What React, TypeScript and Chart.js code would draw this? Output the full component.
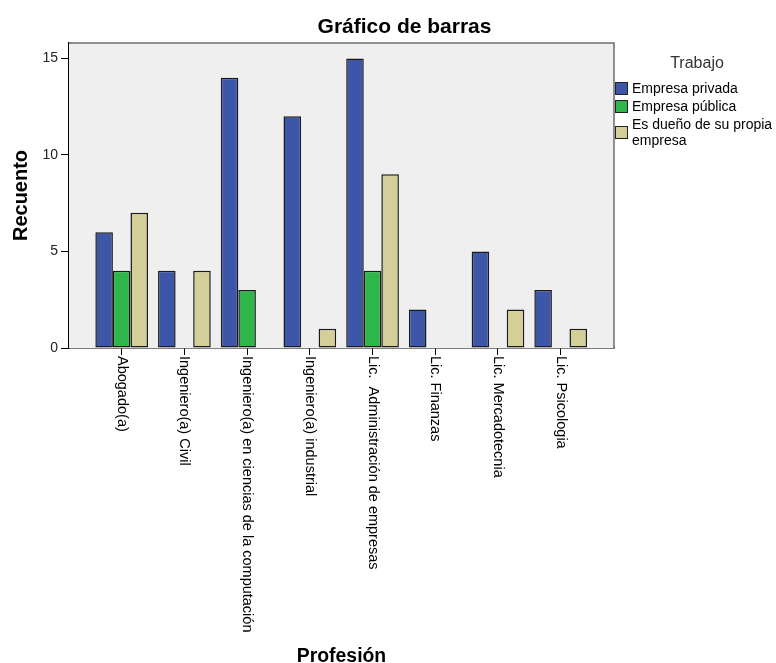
import React, { useEffect, useRef } from 'react';
import { Chart, registerables } from 'chart.js';

Chart.register(...registerables);

const categories = [
  'Abogado(a)',
  'Ingeniero(a) Civil',
  'Ingeniero(a) en ciencias de la computación',
  'Ingeniero(a) industrial',
  'Lic.  Administración de empresas',
  'Lic. Finanzas',
  'Lic. Mercadotecnia',
  'Lic. Psicologia',
];
const seriesNames = ['Empresa privada', 'Empresa pública', 'Es dueño de su propia empresa'];
const legendLines = [['Empresa privada'], ['Empresa pública'], ['Es dueño de su propia', 'empresa']];
const privada = [6, 4, 14, 12, 15, 2, 5, 3];
const publica = [4, 0, 3, 0, 4, 0, 0, 0];
const duenio = [7, 4, 0, 1, 9, 0, 2, 1];
const yTicks = [0, 5, 10, 15];
const yMax = 15.8;
const chartTitle = 'Gráfico de barras';
const xTitle = 'Profesión';
const yTitle = 'Recuento';
const legendTitle = 'Trabajo';

const colors = ['#3D56A8', '#2FB64A', '#D4CF98'];
const FONT = '"Liberation Sans", Arial, sans-serif';

const decorPlugin = {
  id: 'decor',
  beforeDatasetsDraw(chart: any) {
    const { ctx, chartArea: a } = chart;
    ctx.save();
    ctx.fillStyle = '#EFEFEF';
    ctx.fillRect(a.left, a.top, a.right - a.left, a.bottom - a.top);
    ctx.restore();
  },
  afterDraw(chart: any) {
    const { ctx, chartArea: a } = chart;
    const xs = chart.scales.x;
    ctx.save();
    // top and right frame
    ctx.strokeStyle = '#6E6E6E';
    ctx.lineWidth = 1.5;
    ctx.beginPath();
    ctx.moveTo(a.left, a.top);
    ctx.lineTo(a.right, a.top);
    ctx.lineTo(a.right, a.bottom);
    ctx.stroke();

    // category labels, rotated clockwise
    ctx.fillStyle = '#000';
    ctx.font = `14.5px ${FONT}`;
    ctx.textAlign = 'left';
    ctx.textBaseline = 'middle';
    categories.forEach((c, i) => {
      const x = xs.getPixelForValue(i);
      ctx.save();
      ctx.translate(x, a.bottom + 8);
      ctx.rotate(Math.PI / 2);
      ctx.fillText(c, 0, 0);
      ctx.restore();
    });

    // legend
    const lx = a.right + 1;
    ctx.fillStyle = '#333';
    ctx.font = `16px ${FONT}`;
    ctx.textAlign = 'center';
    ctx.textBaseline = 'alphabetic';
    ctx.fillText(legendTitle, a.right + 83, a.top + 25);
    ctx.font = `14px ${FONT}`;
    ctx.textAlign = 'left';
    ctx.textBaseline = 'middle';
    let y = a.top + 38;
    legendLines.forEach((lines, i) => {
      const h = lines.length * 16;
      const sy = y + h / 2 - 7;
      ctx.fillStyle = colors[i];
      ctx.fillRect(lx, sy, 13, 13);
      ctx.strokeStyle = '#222';
      ctx.lineWidth = 1;
      ctx.strokeRect(lx + 0.5, sy + 0.5, 12, 12);
      ctx.fillStyle = '#000';
      lines.forEach((t, k) => {
        ctx.fillText(t, lx + 17, y + 8 + k * 16);
      });
      y += h + 2;
    });

    // titles
    ctx.fillStyle = '#000';
    ctx.textAlign = 'center';
    ctx.textBaseline = 'alphabetic';
    ctx.font = `bold 21px ${FONT}`;
    ctx.fillText(chartTitle, (a.left + a.right + 126) / 2, a.top - 10);
    ctx.font = `bold 19.4px ${FONT}`;
    ctx.fillText(xTitle, (a.left + a.right) / 2, chart.height - 1.5);
    ctx.save();
    ctx.font = `bold 20px ${FONT}`;
    ctx.translate(27, (a.top + a.bottom) / 2);
    ctx.rotate(-Math.PI / 2);
    ctx.fillText(yTitle, 0, 0);
    ctx.restore();
    ctx.restore();
  },
};

const mk = (vals: number[]) => vals.map((v, i) => ({ x: i, y: v === 0 ? null : v }));

export default function App() {
  const ref = useRef<HTMLCanvasElement>(null);
  useEffect(() => {
    if (!ref.current) return;
    const chart = new Chart(ref.current, {
      type: 'bar',
      data: {
        datasets: [privada, publica, duenio].map((vals, i) => ({
          label: seriesNames[i],
          data: mk(vals),
          backgroundColor: colors[i],
          borderColor: '#1A1A1A',
          borderWidth: 1.5,
          borderSkipped: false,
          categoryPercentage: 0.84,
          barPercentage: 1.0,
        })),
      },
      options: {
        animation: false,
        responsive: false,
        events: [],
        layout: { padding: { left: 0, top: 43, right: 162, bottom: 0 } },
        plugins: { legend: { display: false }, title: { display: false }, tooltip: { enabled: false } },
        scales: {
          x: {
            type: 'linear',
            offset: false,
            min: -0.84,
            max: 7.85,
            afterBuildTicks: (s: any) => {
              s.ticks = categories.map((_, i) => ({ value: i }));
            },
            afterFit: (s: any) => {
              s.height = 315;
            },
            ticks: { display: false },
            grid: { offset: false, drawOnChartArea: false, tickLength: 7, color: '#000', lineWidth: 1 },
            border: { color: '#000', width: 1.5 },
          },
          y: {
            min: 0,
            max: yMax,
            afterBuildTicks: (s: any) => {
              s.ticks = yTicks.map((v) => ({ value: v }));
            },
            afterFit: (s: any) => {
              s.width = 69;
            },
            ticks: { font: { size: 14, family: FONT }, color: '#222', padding: 3 },
            grid: { drawOnChartArea: false, tickLength: 8, color: '#000', lineWidth: 1 },
            border: { color: '#000', width: 1.5 },
          },
        },
      },
      plugins: [decorPlugin],
    });
    return () => chart.destroy();
  }, []);
  return (
    <div style={{ position: 'fixed', left: 0, top: 0, width: 776, height: 663, background: '#fff' }}>
      <canvas ref={ref} width={776} height={663} />
    </div>
  );
}
